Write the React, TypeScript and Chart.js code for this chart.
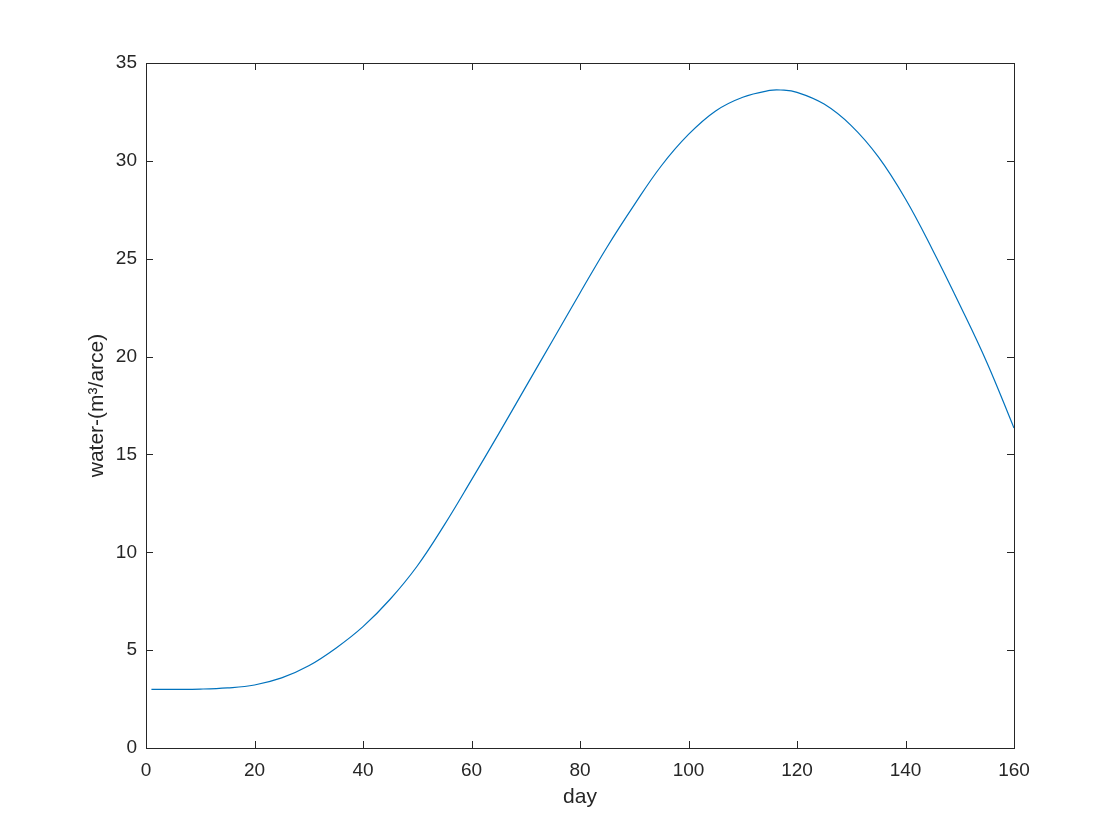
import React, { useEffect, useRef } from "react";
import { Chart, registerables } from "chart.js";

Chart.register(...registerables);

const days = [1, 5, 10, 15, 20, 25, 30, 35, 40, 45, 50, 55, 60, 65, 70, 75, 80, 85, 90, 95, 100, 105, 110, 115, 117, 120, 125, 130, 135, 140, 145, 150, 155, 160];
const water = [3.0, 3.0, 3.01, 3.07, 3.22, 3.58, 4.2, 5.1, 6.2, 7.6, 9.3, 11.4, 13.7, 16.05, 18.45, 20.85, 23.25, 25.6, 27.75, 29.75, 31.35, 32.55, 33.25, 33.6, 33.62, 33.5, 32.9, 31.8, 30.2, 28.05, 25.45, 22.65, 19.7, 16.35];

const xTicks = [0, 20, 40, 60, 80, 100, 120, 140, 160];
const yTicks = [0, 5, 10, 15, 20, 25, 30, 35];

const AXIS = "#262626";
const LINE = "#0072BD";
const FONT = "'Liberation Sans', Arial, Helvetica, sans-serif";

const boxPlugin = {
  id: "matlabBox",
  afterDraw(chart: any) {
    const { ctx, chartArea } = chart;
    const { left, right, top, bottom } = chartArea;
    const xs = chart.scales.x;
    const ys = chart.scales.y;
    const tl = 7;
    ctx.save();
    ctx.strokeStyle = AXIS;
    ctx.lineWidth = 1;
    ctx.beginPath();
    xs.ticks.forEach((t: any) => {
      const px = Math.round(xs.getPixelForValue(t.value)) + 0.5;
      ctx.moveTo(px, bottom);
      ctx.lineTo(px, bottom - tl);
      ctx.moveTo(px, top);
      ctx.lineTo(px, top + tl);
    });
    ys.ticks.forEach((t: any) => {
      const py = Math.round(ys.getPixelForValue(t.value)) + 0.5;
      ctx.moveTo(left, py);
      ctx.lineTo(left + tl, py);
      ctx.moveTo(right, py);
      ctx.lineTo(right - tl, py);
    });
    ctx.stroke();
    ctx.strokeRect(Math.round(left) + 0.5, Math.round(top) + 0.5, Math.round(right - left), Math.round(bottom - top));
    ctx.restore();
  },
};

export default function App() {
  const ref = useRef<HTMLCanvasElement | null>(null);
  useEffect(() => {
    document.body.style.margin = "0";
    const canvas = ref.current;
    if (!canvas) return;
    const chart = new Chart(canvas, {
      type: "line",
      data: {
        datasets: [
          {
            data: days.map((d, i) => ({ x: d, y: water[i] })),
            borderColor: LINE,
            borderWidth: 1.2,
            pointRadius: 0,
            fill: false,
            tension: 0.4,
          },
        ],
      },
      options: {
        responsive: false,
        animation: false,
        events: [],
        layout: { padding: { top: 63, right: 106, bottom: 0, left: 0 } },
        plugins: { legend: { display: false }, tooltip: { enabled: false } },
        scales: {
          x: {
            type: "linear",
            min: 0,
            max: 160,
            afterBuildTicks: (s: any) => {
              s.ticks = xTicks.map((v) => ({ value: v }));
            },
            afterFit: (s: any) => {
              s.height = 92;
            },
            grid: { display: false, drawTicks: false },
            border: { display: false },
            ticks: {
              color: AXIS,
              padding: 11,
              font: { family: FONT, size: 19 },
              maxRotation: 0,
            },
            title: {
              display: true,
              text: "day",
              color: AXIS,
              font: { family: FONT, size: 21 },
              padding: { top: 0, bottom: 30 },
            },
          },
          y: {
            type: "linear",
            min: 0,
            max: 35,
            afterBuildTicks: (s: any) => {
              s.ticks = yTicks.map((v) => ({ value: v }));
            },
            afterFit: (s: any) => {
              s.width = 146;
            },
            grid: { display: false, drawTicks: false },
            border: { display: false },
            ticks: {
              color: AXIS,
              padding: 9,
              font: { family: FONT, size: 19 },
            },
            title: {
              display: true,
              text: "water-(m³/arce)",
              color: AXIS,
              font: { family: FONT, size: 21 },
              padding: { top: 85, bottom: 0 },
            },
          },
        },
      },
      plugins: [boxPlugin],
    });
    return () => chart.destroy();
  }, []);
  return (
    <div style={{ width: 1120, height: 840, background: "#fff" }}>
      <canvas ref={ref} width={1120} height={840} style={{ display: "block", width: 1120, height: 840 }} />
    </div>
  );
}
